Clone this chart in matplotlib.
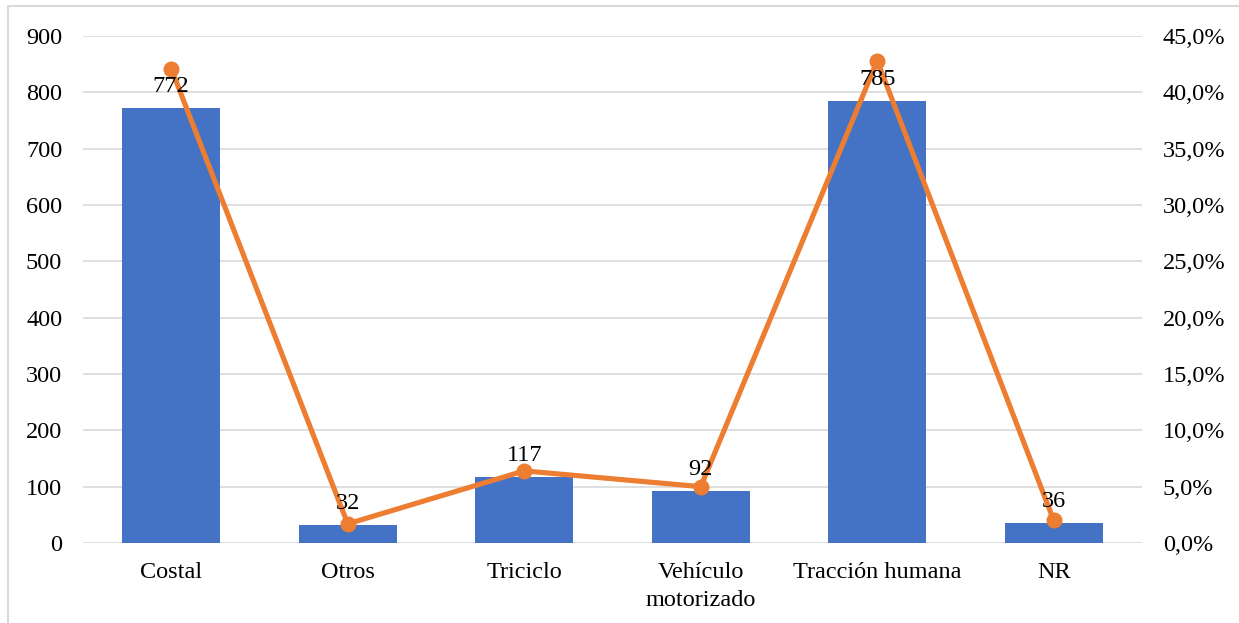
import matplotlib
matplotlib.use("Agg")
import matplotlib.pyplot as plt
from matplotlib.ticker import FuncFormatter, MultipleLocator
from matplotlib.patches import Rectangle

categories = ["Costal", "Otros", "Triciclo", "Vehículo\nmotorizado", "Tracción humana", "NR"]
counts = [772, 32, 117, 92, 785, 36]
percent = [42.1, 1.7, 6.4, 5.0, 42.8, 2.0]

plt.rcParams['font.family'] = ['Liberation Serif', 'DejaVu Serif']
FS = 17.5

fig = plt.figure(figsize=(12.39, 6.23), dpi=100)
ax = fig.add_axes([83/1239, 1-543/623, (1142-83)/1239, (543-36)/623])

# outer frame
fig.patches.append(Rectangle((8/1239, -0.01), 1.2, 1-6/623+0.01, transform=fig.transFigure,
                             fill=False, edgecolor='#d9d9d9', linewidth=1.5))

x = list(range(len(categories)))
ax.bar(x, counts, width=0.553, color='#4472C4', zorder=2)
ax.set_ylim(0, 900)
ax.set_xlim(-0.5, len(categories) - 0.5)
ax.yaxis.set_major_locator(MultipleLocator(100))
ax.grid(axis='y', color='#d9d9d9', linewidth=1.2, zorder=0)
ax.set_axisbelow(True)
for s in ax.spines.values():
    s.set_visible(False)
ax.tick_params(axis='both', length=0, labelsize=FS, colors='black')
ax.tick_params(axis='y', pad=15)
ax.tick_params(axis='x', pad=14)
ax.set_xticks(x)
ax.set_xticklabels(categories, linespacing=1.4)

ax2 = ax.twinx()
ax2.plot(x, percent, color='#ED7D31', linewidth=3.7, marker='o', markersize=10.5, zorder=3)
ax2.set_ylim(0, 45)
ax2.yaxis.set_major_locator(MultipleLocator(5))
ax2.yaxis.set_major_formatter(FuncFormatter(lambda v, p: f"{v:.1f}%".replace('.', ',')))
for s in ax2.spines.values():
    s.set_visible(False)
ax2.tick_params(axis='y', length=0, labelsize=FS, pad=15)

for xi, v in zip(x, counts):
    ax2.annotate(str(v), (xi, v), xycoords=('data', ax.transData), xytext=(0, 11.5),
                 textcoords='offset points', ha='center', va='baseline', fontsize=FS, zorder=5)

fig.savefig("out.png", dpi=100)
